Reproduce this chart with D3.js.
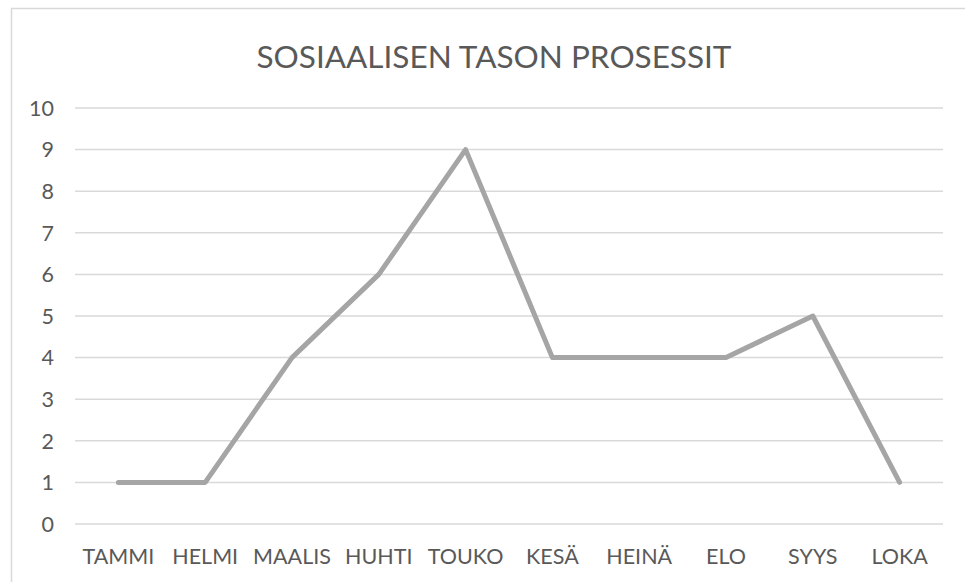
<!DOCTYPE html>
<html>
<head>
<meta charset="utf-8">
<script src="https://cdn.jsdelivr.net/npm/d3@7"></script>
<style>
  body { margin: 0; background: #fff; }
  svg { display: block; }
</style>
</head>
<body>
<svg id="chart" width="965" height="582"></svg>
<script>
// data
var months = ["TAMMI", "HELMI", "MAALIS", "HUHTI", "TOUKO", "KESÄ", "HEINÄ", "ELO", "SYYS", "LOKA"];
var values = [1, 1, 4, 6, 9, 4, 4, 4, 5, 1];
var yTicks = [0, 1, 2, 3, 4, 5, 6, 7, 8, 9, 10];
var title = "SOSIAALISEN TASON PROSESSIT";

var margin = {top: 108, right: 22, bottom: 58, left: 75};
var width = 965;
var height = 582;

var svg = d3.select("svg#chart");

// chart area border
svg.append("rect")
  .attr("x", 11.5)
  .attr("y", 8.5)
  .attr("width", 975)
  .attr("height", 590)
  .attr("fill", "#fff")
  .attr("stroke", "#d9d9d9")
  .attr("stroke-width", 1.5);

var x = d3.scaleBand()
  .domain(months)
  .range([margin.left, width - margin.right]);

var y = d3.scaleLinear()
  .domain([0, 10])
  .range([height - margin.bottom, margin.top]);

// gridlines
svg.append("g")
  .selectAll("line")
  .data(yTicks)
  .enter()
  .append("line")
  .attr("x1", margin.left)
  .attr("x2", width - margin.right)
  .attr("y1", function (d) { return y(d); })
  .attr("y2", function (d) { return y(d); })
  .attr("stroke", "#d9d9d9")
  .attr("stroke-width", 1.5);

// y labels
svg.append("g")
  .selectAll("text")
  .data(yTicks)
  .enter()
  .append("text")
  .attr("x", 54)
  .attr("y", function (d) { return y(d); })
  .attr("dy", "0.36em")
  .attr("text-anchor", "end")
  .attr("fill", "#595959")
  .style("font-family", "Lato, sans-serif")
  .style("font-size", "21.5px")
  .text(function (d) { return d; });

// x labels
svg.append("g")
  .selectAll("text")
  .data(months)
  .enter()
  .append("text")
  .attr("x", function (d) { return x(d) + x.bandwidth() / 2; })
  .attr("y", 564)
  .attr("text-anchor", "middle")
  .attr("fill", "#595959")
  .style("font-family", "Lato, sans-serif")
  .style("font-size", "21.5px")
  .text(function (d) { return d; });

// the line
var line = d3.line()
  .x(function (d, i) { return x(months[i]) + x.bandwidth() / 2; })
  .y(function (d) { return y(d); });

svg.append("path")
  .datum(values)
  .attr("d", line)
  .attr("fill", "none")
  .attr("stroke", "#a5a5a5")
  .attr("stroke-width", 5)
  .attr("stroke-linecap", "round")
  .attr("stroke-linejoin", "round");

// title
svg.append("text")
  .attr("x", 494)
  .attr("y", 68)
  .attr("text-anchor", "middle")
  .attr("fill", "#595959")
  .style("font-family", "Lato, sans-serif")
  .style("font-size", "31.5px")
  .text(title);
</script>
</body>
</html>
